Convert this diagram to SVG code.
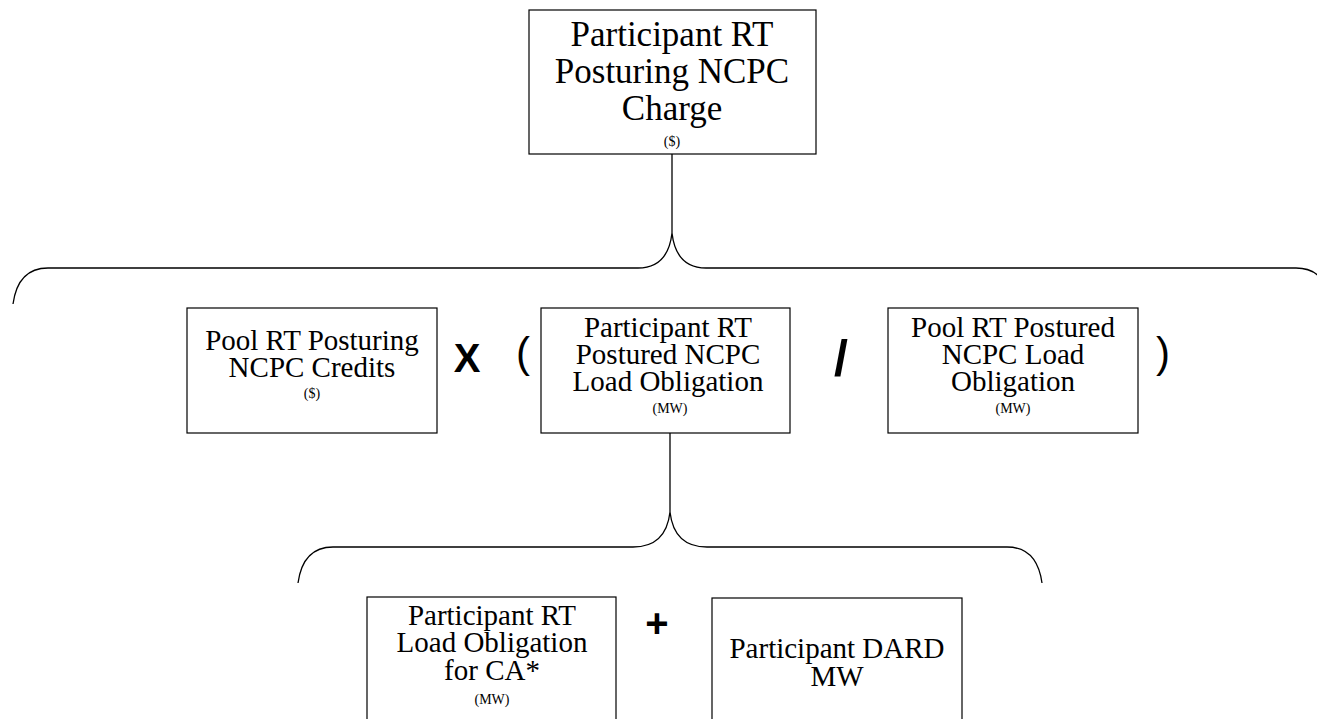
<svg xmlns="http://www.w3.org/2000/svg" width="1317" height="719" viewBox="0 0 1317 719">
  <style>
    .box { fill: #ffffff; stroke: #000000; stroke-width: 1.2; }
    .wire { fill: none; stroke: #000000; stroke-width: 1.3; }
    .t { font-family: "Palatino Linotype", "Book Antiqua", Palatino, "Liberation Serif", serif; fill: #000000; text-anchor: middle; }
    .big { font-size: 35px; }
    .mid { font-size: 29px; }
    .unit { font-size: 14px; }
    .op { font-family: "Liberation Sans", Arial, sans-serif; fill: #000000; text-anchor: middle; }
  </style>

  <!-- connectors: stems and braces -->
  <g id="connectors">
    <line class="wire" x1="672" y1="154" x2="672" y2="233"/>
    <path class="wire" d="M 13 304 Q 18 268 48 268 L 638 268 Q 668 268 672 233 Q 676 268 706 268 L 1296 268 Q 1326 268 1331 304"/>
    <line class="wire" x1="670" y1="433" x2="670" y2="512"/>
    <path class="wire" d="M 298 583 Q 303 547 333 547 L 633 547 Q 666 547 670 512 Q 674 547 707 547 L 1007 547 Q 1037 547 1042 583"/>
  </g>

  <g id="node-charge">
    <rect class="box" x="529" y="10" width="287" height="144"/>
    <text class="t big" x="672" y="46">Participant RT</text>
    <text class="t big" x="672" y="83">Posturing NCPC</text>
    <text class="t big" x="672" y="120">Charge</text>
    <text class="t unit" x="672" y="146">($)</text>
  </g>

  <g id="node-pool-credits">
    <rect class="box" x="187" y="308" width="250" height="125"/>
    <text class="t mid" x="312" y="350">Pool RT Posturing</text>
    <text class="t mid" x="312" y="377">NCPC Credits</text>
    <text class="t unit" x="312" y="398">($)</text>
  </g>

  <g id="op-times">
    <text class="op" x="467" y="372" font-size="40" font-weight="bold">X</text>
    <text class="op" x="523" y="367" font-size="42">(</text>
  </g>

  <g id="node-participant-postured">
    <rect class="box" x="541" y="308" width="249" height="125"/>
    <text class="t mid" x="668" y="337">Participant RT</text>
    <text class="t mid" x="668" y="364">Postured NCPC</text>
    <text class="t mid" x="668" y="391">Load Obligation</text>
    <text class="t unit" x="670" y="413">(MW)</text>
  </g>

  <g id="op-divide">
    <text class="op" x="841" y="375" font-size="50" font-weight="bold">/</text>
  </g>

  <g id="node-pool-postured">
    <rect class="box" x="888" y="308" width="250" height="125"/>
    <text class="t mid" x="1013" y="337">Pool RT Postured</text>
    <text class="t mid" x="1013" y="364">NCPC Load</text>
    <text class="t mid" x="1013" y="391">Obligation</text>
    <text class="t unit" x="1013" y="413">(MW)</text>
  </g>

  <g id="op-close">
    <text class="op" x="1163" y="367" font-size="42">)</text>
  </g>

  <g id="node-rt-load">
    <rect class="box" x="367" y="597" width="249" height="130"/>
    <text class="t mid" x="492" y="625">Participant RT</text>
    <text class="t mid" x="492" y="652">Load Obligation</text>
    <text class="t mid" x="492" y="680">for CA*</text>
    <text class="t unit" x="492" y="704">(MW)</text>
  </g>

  <g id="op-plus">
    <text class="op" x="657" y="637" font-size="40" font-weight="bold">+</text>
  </g>

  <g id="node-dard">
    <rect class="box" x="712" y="598" width="250" height="130"/>
    <text class="t mid" x="837" y="658">Participant DARD</text>
    <text class="t mid" x="837" y="686">MW</text>
  </g>
</svg>
